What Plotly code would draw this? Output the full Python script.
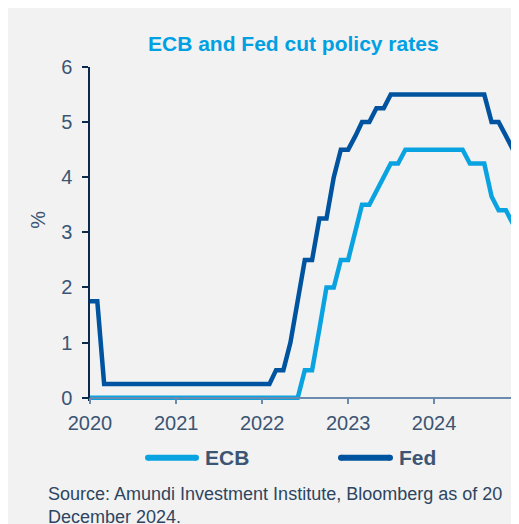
import plotly.graph_objects as go
import pandas as pd

# ---- data (monthly, end-of-month policy rates, %) ----
months = pd.date_range("2020-01-01", "2024-12-01", freq="MS")

fed = ([1.75, 1.75] + [0.25] * 10 +                       # 2020
       [0.25] * 12 +                                       # 2021
       [0.25, 0.25, 0.5, 0.5, 1.0, 1.75, 2.5, 2.5, 3.25, 3.25, 4.0, 4.5] +   # 2022
       [4.5, 4.75, 5.0, 5.0, 5.25, 5.25, 5.5, 5.5, 5.5, 5.5, 5.5, 5.5] +     # 2023
       [5.5, 5.5, 5.5, 5.5, 5.5, 5.5, 5.5, 5.5, 5.0, 5.0, 4.75, 4.5])        # 2024

ecb = ([0.0] * 12 +                                        # 2020
       [0.0] * 12 +                                        # 2021
       [0.0] * 6 + [0.5, 0.5, 1.25, 2.0, 2.0, 2.5] +       # 2022
       [2.5, 3.0, 3.5, 3.5, 3.75, 4.0, 4.25, 4.25, 4.5, 4.5, 4.5, 4.5] +     # 2023
       [4.5, 4.5, 4.5, 4.5, 4.5, 4.25, 4.25, 4.25, 3.65, 3.40, 3.40, 3.15])  # 2024

series_names = ["ECB", "Fed"]
y_ticks = [0, 1, 2, 3, 4, 5, 6]
title_text = "ECB and Fed cut policy rates"
y_label = "%"
source_text = "Source: Amundi Investment Institute, Bloomberg as of 20<br>December 2024."

# ---- layout geometry (screen pixels; page body has an 8px margin) ----
OFF = 8
W, H = 519, 524
L = 90 - OFF
T = 67 - OFF
R = W - (513 - OFF)
Y_LO, Y_HI = -0.06, 6
px_per_unit = (398 - 67) / 6.0
plot_h = (Y_HI - Y_LO) * px_per_unit
B = H - T - plot_h
plot_w = W - L - R

def px_x(px):
    return (px - OFF - L) / plot_w

def px_y(py):
    return (T + plot_h - (py - OFF)) / plot_h

ECB_COL = "#0aa3e2"
FED_COL = "#00539f"
TXT_COL = "#3b5573"
FONT = "Arial, Liberation Sans, sans-serif"

fig = go.Figure()
fig.add_trace(go.Scatter(x=months, y=ecb, name=series_names[0], mode="lines",
                         line=dict(color=ECB_COL, width=4.5), showlegend=False))
fig.add_trace(go.Scatter(x=months, y=fed, name=series_names[1], mode="lines",
                         line=dict(color=FED_COL, width=4.5), showlegend=False))

fig.update_layout(
    width=W, height=H,
    margin=dict(l=L, r=R, t=T, b=B, pad=0),
    paper_bgcolor="#f2f2f2",
    plot_bgcolor="rgba(0,0,0,0)",
    font=dict(family=FONT, color=TXT_COL),
    showlegend=False,
)

fig.update_xaxes(
    range=[months[0], months[-1]],
    tickformat="%Y", dtick="M12", tick0="2020-01-01",
    showgrid=False, zeroline=False,
    showline=True, linecolor="#6a8bad", linewidth=1.5,
    ticks="outside", ticklen=6, tickcolor="#6a8bad", tickwidth=1.5,
    ticklabelstandoff=2,
    tickfont=dict(size=20, color=TXT_COL, family=FONT),
    anchor="free", position=(0 - Y_LO) / (Y_HI - Y_LO),
)
fig.update_yaxes(
    range=[Y_LO, Y_HI], tickvals=y_ticks,
    showgrid=False, zeroline=False,
    showline=True, linecolor="#0d2a4d", linewidth=1.5,
    ticks="outside", ticklen=6, tickcolor="#0d2a4d", tickwidth=1.5,
    ticklabelstandoff=6,
    tickfont=dict(size=20, color=TXT_COL, family=FONT),
)

shapes = []
annotations = []

# custom legend (screen pixel positions)
legend_items = [(series_names[0], ECB_COL, 145, 199, 203),
                (series_names[1], FED_COL, 338, 393, 397)]
ly = 458
for name, col, x0, x1, tx in legend_items:
    shapes.append(dict(type="line", xref="paper", yref="paper",
                       x0=px_x(x0 + 3), x1=px_x(x1 - 3), y0=px_y(ly), y1=px_y(ly),
                       line=dict(color=col, width=6)))
    for cx in (x0 + 3, x1 - 3):
        shapes.append(dict(type="circle", xref="paper", yref="paper",
                           x0=px_x(cx - 3), x1=px_x(cx + 3),
                           y0=px_y(ly + 3), y1=px_y(ly - 3),
                           fillcolor=col, line_width=0))
    annotations.append(dict(text="<b>%s</b>" % name, xref="paper", yref="paper",
                            x=px_x(tx), y=px_y(ly), xanchor="left", yanchor="middle",
                            showarrow=False, font=dict(size=21, color=TXT_COL, family=FONT)))

annotations.append(dict(text="<b>%s</b>" % title_text, xref="paper", yref="paper",
                        x=px_x(293), y=px_y(43), xanchor="center", yanchor="middle",
                        showarrow=False, font=dict(size=21, color="#00a0e3", family=FONT)))
annotations.append(dict(text=y_label, xref="paper", yref="paper",
                        x=px_x(38), y=px_y(220), xanchor="center", yanchor="middle",
                        textangle=-90, showarrow=False,
                        font=dict(size=20, color=TXT_COL, family=FONT)))
annotations.append(dict(text=source_text, xref="paper", yref="paper",
                        x=px_x(46), y=px_y(482), xanchor="left", yanchor="top",
                        align="left", showarrow=False,
                        font=dict(size=18, color="#2d4560", family=FONT)))

fig.update_layout(shapes=shapes, annotations=annotations)
fig.write_html("out.html")
